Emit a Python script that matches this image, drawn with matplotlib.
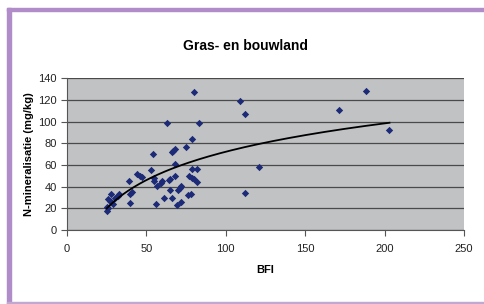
import numpy as np
import matplotlib
matplotlib.use("Agg")
import matplotlib.pyplot as plt
from matplotlib.patches import Rectangle

plt.rcParams["font.family"] = ["Liberation Sans", "DejaVu Sans"]

# -----------------------------
# Data
# -----------------------------
bfi = [80, 188, 109, 171, 112, 63, 83, 203, 79, 75,
       68, 67, 66, 54, 68, 121, 79, 82, 53, 44,
       46, 47, 55, 55, 68, 77, 79, 80, 39, 64,
       65, 60, 59, 57, 82, 72, 71, 70, 65, 41,
       40, 61, 66, 76, 78, 112, 72, 69, 56, 40,
       27, 28, 30, 32, 33, 26, 28, 25, 26, 25, 29]
n_min = [127, 128, 119, 111, 107, 99, 99, 92, 84, 77,
         75, 73, 72, 70, 61, 58, 56, 56, 55, 52,
         50, 49, 48, 45, 50, 50, 48, 47, 45, 46,
         47, 45, 43, 41, 44, 41, 39, 37, 37, 35,
         33, 30, 30, 32, 33, 34, 26, 23, 24, 25,
         27, 33, 30, 31, 33, 29, 26, 21, 20, 18, 24]

# logarithmic trendline y = a*ln(x) + b
trend_a = 37.7
trend_b = -101.4

x_ticks = [0, 50, 100, 150, 200, 250]
y_ticks = [0, 20, 40, 60, 80, 100, 120, 140]

title = "Gras- en bouwland"
x_label = "BFI"
y_label = "N-mineralisatie (mg/kg)"

# -----------------------------
# Figure
# -----------------------------
fig = plt.figure(figsize=(4.85, 3.04), dpi=100)
ax = fig.add_axes([0.138, 0.243, 0.819, 0.500])

ax.set_facecolor("#c0c2c4")
ax.set_xlim(0, 250)
ax.set_ylim(0, 140)
ax.set_xticks(x_ticks)
ax.set_yticks(y_ticks)
ax.yaxis.grid(True, color="#4a4a4a", linewidth=0.9)
ax.set_axisbelow(True)

ax.scatter(bfi, n_min, marker="D", s=14, color="#1c2a78", zorder=3, linewidths=0)

xs = np.linspace(min(bfi), max(bfi), 200)
ax.plot(xs, trend_a * np.log(xs) + trend_b, color="black", linewidth=1.3, zorder=4)

for side in ["top", "right"]:
    ax.spines[side].set_visible(False)
for side in ["left", "bottom"]:
    ax.spines[side].set_color("#555555")
    ax.spines[side].set_linewidth(0.8)

ax.tick_params(axis="both", direction="out", length=4, width=0.8,
               color="#555555", labelsize=8, labelcolor="#222222")
ax.tick_params(axis="x", pad=6)

ax.set_xlabel(x_label, fontsize=8, fontweight="bold", labelpad=8)
ax.set_ylabel(y_label, fontsize=8, fontweight="bold", labelpad=3)
fig.text(0.507, 0.849, title, ha="center", va="center",
         fontsize=10, fontweight="bold")

# purple frame around the chart
purple = "#b08cc8"
fig.patches.append(Rectangle((7 / 485, 0), 4 / 485, 1 - 8 / 304,
                             transform=fig.transFigure, color=purple))
fig.patches.append(Rectangle((7 / 485, 1 - 11 / 304), 1, 3.5 / 304,
                             transform=fig.transFigure, color=purple))
fig.patches.append(Rectangle((7 / 485, 0.5 / 304), 1, 1.5 / 304,
                             transform=fig.transFigure, color="#c0a8d0"))

fig.savefig("out.png", dpi=100)
